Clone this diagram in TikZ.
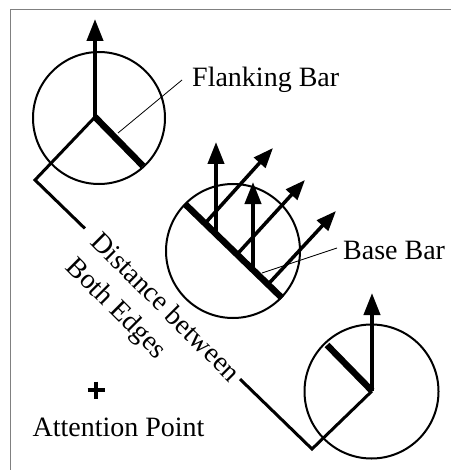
\documentclass[tikz,border=0pt]{standalone}
\usepackage{fontspec}
\setmainfont{Liberation Serif}
\usetikzlibrary{arrows.meta,calc}
\begin{document}
\begin{tikzpicture}[x=1pt,y=-1pt,
  ring/.style={line width=2pt},
  leg/.style={line width=3pt,line join=miter},
  bar/.style={line width=6.5pt},
  vec/.style={line width=4pt,-{Triangle[length=22pt,width=16pt]}},
  dvec/.style={line width=3.5pt,-{Triangle[length=20pt,width=15pt]}},
  leader/.style={line width=0.8pt},
  lbl/.style={font=\fontsize{28}{35}\selectfont, inner sep=0pt}]
\useasboundingbox (0,0) rectangle (451,470);
% frame
\coordinate (fb) at (10.5,470);
\coordinate (fc) at (10.5,9.5);
\coordinate (fr) at (451,9.5);
\draw[gray, line width=1.5pt] (fb) -- (fc) -- (fr);
% circle 1 (flanking, upper left)
\coordinate (c1) at (99,118);
\coordinate (j1) at (95,117);
\coordinate (t1) at (95,19);
\coordinate (b1) at (143,166);
\draw[ring] (c1) circle[radius=66];
\draw[vec] (j1) -- (t1);
\draw[bar] (j1) -- (b1);
% circle 3 (flanking, lower right)
\coordinate (c3) at (371.5,391.5);
\coordinate (j3) at (372,391);
\coordinate (t3) at (372,293);
\coordinate (b3) at (327,345);
\draw[ring] (c3) circle[radius=67];
\draw[vec] (j3) -- (t3);
\draw[bar] (j3) -- (b3);
% distance path
\coordinate (k1) at (35,180);
\coordinate (k2) at (312,449);
\draw[leg] (j1) -- (k1) -- ($(k1)!0.18!(k2)$);
\draw[leg] ($(k1)!0.74!(k2)$) -- (k2) -- (j3);
\node[lbl, rotate=-45, align=left] (dist) at (152,321) {Distance between\\Both Edges};
% circle 2 (base bar)
\coordinate (c2) at (233,251);
\draw[ring] (c2) circle[radius=67];
\coordinate (s1) at (205,223.4);
\coordinate (s2) at (216,234);
\coordinate (s3) at (237,254.4);
\coordinate (s4) at (253,270);
\coordinate (s5) at (268,284.4);
\coordinate (e1) at (273,148);
\coordinate (e2) at (216,142);
\coordinate (e3) at (305,180);
\coordinate (e4) at (253,182);
\coordinate (e5) at (336,211);
\draw[dvec] (s1) -- (e1);
\draw[vec] (s2) -- (e2);
\draw[dvec] (s3) -- (e3);
\draw[vec] (s4) -- (e4);
\draw[dvec] (s5) -- (e5);
\coordinate (ba) at (185,204);
\coordinate (bb) at (282,298);
\draw[bar] (ba) -- (bb);
% labels
\node[lbl, anchor=west] (flank) at (192,80) {Flanking Bar};
\coordinate (fl1) at (118,133);
\draw[leader] (fl1) -- ($(flank.west)+(-10,0)$);
\node[lbl, anchor=west] (base) at (343,250) {Base Bar};
\coordinate (bl1) at (262,273);
\draw[leader] (bl1) -- ($(base.west)+(-6,-2)$);
% attention point
\coordinate (ap) at (96,390);
\draw[line width=3.5pt] ($(ap)+(-8.5,0)$) -- ($(ap)+(8.5,0)$);
\draw[line width=3.5pt] ($(ap)+(0,-8.5)$) -- ($(ap)+(0,8.5)$);
\node[lbl] (att) at (118.5,427) {Attention Point};
\end{tikzpicture}
\end{document}
